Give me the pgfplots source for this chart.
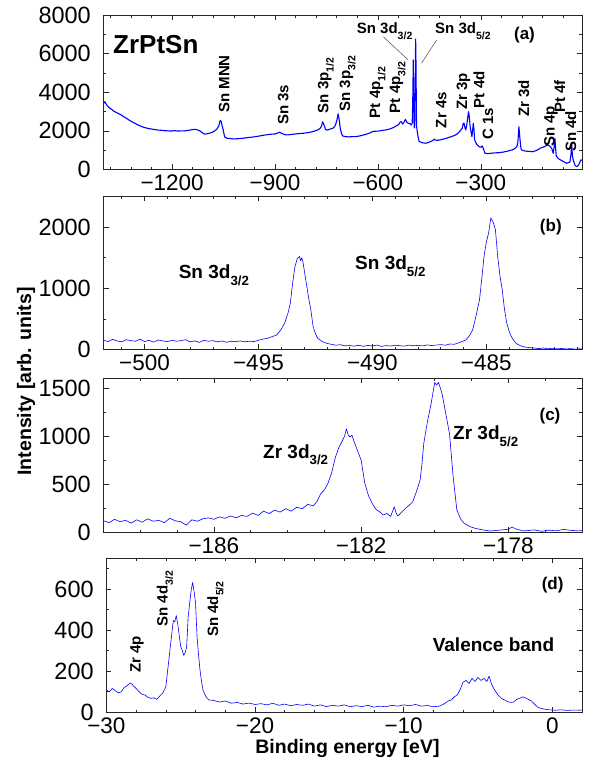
\documentclass[border=0pt]{standalone}
\usepackage{pgfplots}
\pgfplotsset{compat=1.18}
\usepackage{graphicx}
\usepackage{fontspec}
\setmainfont{Liberation Sans}
\newcommand{\sub}[1]{\raisebox{-0.35em}{\scalebox{0.7}{#1}}}
\newcommand{\lblA}{\bfseries\fontsize{15}{15}\selectfont}
\newcommand{\lblB}{\bfseries\fontsize{19}{19}\selectfont}
\newcommand{\xtickf}{\fontsize{22.5}{22.5}\selectfont}
\newcommand{\ytickf}{\fontsize{23.5}{23.5}\selectfont}
\pgfplotsset{
 panel/.style={
  scale only axis, anchor=north west,
  axis line style={black!85, line width=0.7pt},
  every tick/.style={black!85, line width=0.6pt},
  major tick length=5pt, minor tick length=2.6pt,
  tick align=inside,
  scaled ticks=false,
  /pgf/number format/assume math mode=true,
  xticklabel style={font=\xtickf, inner sep=0pt, yshift=-5.5pt},
  yticklabel style={font=\ytickf, inner sep=0pt, xshift=-12.5pt},
 },
 curve/.style={blue, line width=0.6pt, line join=round},
}
\begin{document}
\begin{tikzpicture}[x=1pt,y=1pt]
% ---------------- (a)
\begin{axis}[panel, at={(103.5pt,750pt)}, width=478.5pt, height=154.5pt,
 xmin=-1400, xmax=-5, ymin=0, ymax=8000,
 xtick={-1200,-900,-600,-300}, xticklabels={−1200,−900,−600,−300},
 minor xtick={-1380,-1320,...,-60},
 ytick={0,2000,4000,6000,8000}, yticklabels={0,2000,4000,6000,8000},
 minor ytick={1000,3000,5000,7000}]
\addplot[curve, line width=1.1pt] coordinates {
(-1400,3420) (-1396,3510) (-1392,3380) (-1387,3260) (-1382,3180) (-1377,3120) (-1372,3050)
(-1367,2990) (-1362,2950) (-1357,2900) (-1352,2860) (-1348,2820) (-1343,2750) (-1338,2700)
(-1333,2650) (-1329,2600) (-1322,2520) (-1315,2450) (-1307,2380) (-1300,2310) (-1292,2250)
(-1285,2200) (-1278,2160) (-1271,2130) (-1262,2100) (-1255,2080) (-1248,2060) (-1241,2040)
(-1232,2030) (-1222,2010) (-1212,2000) (-1203,1990) (-1193,2010) (-1183,1990) (-1173,2000)
(-1164,1995) (-1155,2020) (-1145,2050) (-1135,2080) (-1128,2060) (-1120,2010) (-1113,1920)
(-1106,1830) (-1097,1850) (-1087,1900) (-1077,1980) (-1070,2080) (-1064,2250) (-1060,2530)
(-1057,2500) (-1054,2250) (-1051,2050) (-1048,1780) (-1046,1670) (-1040,1620) (-1030,1600)
(-1018,1580) (-1005,1600) (-992,1620) (-980,1650) (-965,1680) (-950,1720) (-931,1780)
(-915,1820) (-900,1840) (-890,1900) (-886,1930) (-880,1860) (-870,1800) (-864,1790)
(-850,1820) (-835,1850) (-815,1880) (-800,1920) (-790,1960) (-778,2030) (-770,2100)
(-765,2220) (-761,2470) (-757,2300) (-753,2080) (-748,2040) (-740,2090) (-732,2130)
(-726,2220) (-722,2400) (-719,2600) (-716,2880) (-713,2600) (-710,2150) (-706,1850)
(-703,1740) (-695,1700) (-685,1690) (-675,1700) (-664,1700) (-650,1750) (-635,1820)
(-622,1900) (-615,1970) (-608,1980) (-598,1990) (-585,2030) (-576,2050) (-565,2100)
(-555,2170) (-547,2250) (-540,2320) (-535,2450) (-532,2480) (-528,2350) (-524,2450)
(-520,2600) (-516,2450) (-512,2400) (-507,2380) (-503,2300) (-500,2400) (-498,4000)
(-497,5670) (-496,4200) (-494.5,2200) (-493,2150) (-491,5000) (-490,6750) (-489,5500)
(-487.5,2300) (-486,2050) (-483,1700) (-480,1450) (-470,1380) (-460,1360) (-450,1420)
(-440,1500) (-436,1570) (-432,1520) (-425,1510) (-412,1560) (-400,1620) (-390,1680)
(-380,1740) (-373,1790) (-365,1900) (-358,2050) (-354,2150) (-351,2390) (-349,2400)
(-346,2150) (-344,2050) (-341,2300) (-338,2700) (-336,2990) (-334,2800) (-331,2220)
(-328,1900) (-326,1700) (-324,2000) (-322,2390) (-320,2100) (-318,1530) (-312,1300)
(-305,1180) (-299,1150) (-296,1220) (-292,1050) (-288,840) (-280,820) (-270,840)
(-260,860) (-247,870) (-235,900) (-222,950) (-212,1000) (-208,1010) (-200,1100)
(-195,1180) (-192,1400) (-189,2220) (-186,1600) (-183,1100) (-181,1010) (-170,950)
(-160,940) (-149,920) (-138,980) (-127,1100) (-115,1180) (-105,1270) (-98,1200)
(-93,1080) (-89,840) (-86,1200) (-84,1620) (-82,1100) (-80,700) (-74,560) (-67,490)
(-58,400) (-50,320) (-44,360) (-40,400) (-37,800) (-35,1360) (-33,700) (-30,450)
(-25,200) (-20,145) (-15,230) (-10,420) (-8,500) (-5,480)
};
\draw[black!70, line width=0.5pt] (axis cs:-584,6870) -- (axis cs:-512,5670);
\draw[black!70, line width=0.5pt] (axis cs:-429,6700) -- (axis cs:-473,5500);
\end{axis}
% ---------------- (b)
\begin{axis}[panel, at={(103.5pt,568.5pt)}, width=478.5pt, height=153pt,
 xmin=-501.8, xmax=-480.8, ymin=0, ymax=2500,
 xtick={-500,-495,-490,-485}, xticklabels={−500,−495,−490,−485},
 minor xtick={-501,-500,...,-481},
 ytick={0,1000,2000}, yticklabels={0,1000,2000},
 minor ytick={500,1500,2500}]
\addplot[curve] coordinates {
(-501.8,150) (-501.6,130) (-501.4,165) (-501.2,140) (-501.0,125) (-500.8,160) (-500.6,145)
(-500.4,135) (-500.2,170) (-500.0,130) (-499.8,150) (-499.6,120) (-499.4,155) (-499.2,140)
(-499.0,128) (-498.8,150) (-498.6,135) (-498.4,145) (-498.2,160) (-498.0,125) (-497.8,140)
(-497.6,115) (-497.4,150) (-497.2,135) (-497.0,145) (-496.8,125) (-496.6,140) (-496.4,118)
(-496.2,135) (-496.0,128) (-495.8,140) (-495.6,125) (-495.4,135) (-495.2,130) (-495.0,150)
(-494.8,170) (-494.6,183) (-494.4,210) (-494.2,237) (-494.0,330) (-493.85,429) (-493.7,600)
(-493.6,756) (-493.5,1084) (-493.4,1350) (-493.3,1480) (-493.2,1520) (-493.15,1450)
(-493.1,1500) (-493.05,1438) (-492.95,1200) (-492.9,1084) (-492.8,850) (-492.7,647)
(-492.6,373) (-492.5,260) (-492.4,183) (-492.2,130) (-492.0,100) (-491.8,85) (-491.6,70)
(-491.4,78) (-491.2,60) (-491.0,65) (-490.8,55) (-490.6,70) (-490.4,52) (-490.2,66)
(-490.0,58) (-489.8,72) (-489.6,50) (-489.4,64) (-489.2,56) (-489.0,70) (-488.8,62)
(-488.6,55) (-488.4,72) (-488.2,60) (-488.0,68) (-487.8,58) (-487.6,75) (-487.4,65)
(-487.2,72) (-487.0,80) (-486.8,70) (-486.6,90) (-486.4,85) (-486.2,110) (-485.9,155)
(-485.75,220) (-485.6,319) (-485.45,550) (-485.3,810) (-485.2,1150) (-485.1,1520)
(-485.0,1750) (-484.9,1903) (-484.8,2149) (-484.7,2080) (-484.6,1957) (-484.5,1520)
(-484.4,1200) (-484.3,975) (-484.2,650) (-484.1,429) (-484.0,300) (-483.9,210)
(-483.8,150) (-483.7,101) (-483.5,60) (-483.3,40) (-483.1,30) (-482.9,25) (-482.7,15)
(-482.5,25) (-482.3,12) (-482.1,20) (-481.9,10) (-481.7,18) (-481.5,8) (-481.3,15)
(-481.1,5) (-480.9,12) (-480.8,8)
};
\end{axis}
% ---------------- (c)
\begin{axis}[panel, at={(103.5pt,386.7pt)}, width=478.5pt, height=154pt,
 xmin=-189, xmax=-176, ymin=0, ymax=1600,
 xtick={-186,-182,-178}, xticklabels={−186,−182,−178},
 minor xtick={-189,-188,...,-176},
 ytick={0,500,1000,1500}, yticklabels={0,500,1000,1500},
 minor ytick={250,750,1250}]
\addplot[curve] coordinates {
(-189.0,120) (-188.85,100) (-188.7,135) (-188.55,110) (-188.4,125) (-188.25,95) (-188.1,130)
(-187.95,105) (-187.8,140) (-187.65,115) (-187.5,125) (-187.35,100) (-187.2,145) (-187.05,120)
(-186.9,110) (-186.75,75) (-186.6,130) (-186.45,115) (-186.3,140) (-186.15,150) (-186.0,135)
(-185.85,160) (-185.7,145) (-185.55,170) (-185.4,150) (-185.25,175) (-185.1,165) (-184.95,200)
(-184.8,175) (-184.65,220) (-184.5,195) (-184.35,230) (-184.2,210) (-184.05,245) (-183.9,220)
(-183.75,260) (-183.6,245) (-183.45,290) (-183.3,275) (-183.2,320) (-183.1,400) (-183.0,440)
(-182.9,510) (-182.8,620) (-182.7,780) (-182.6,885) (-182.5,960) (-182.45,1000) (-182.4,1075)
(-182.35,1010) (-182.3,990) (-182.25,1010) (-182.2,950) (-182.1,850) (-182.0,748) (-181.9,507)
(-181.8,380) (-181.7,300) (-181.6,240) (-181.5,213) (-181.4,180) (-181.3,196) (-181.2,165)
(-181.1,265) (-181.05,200) (-181.0,169) (-180.9,210) (-180.8,248) (-180.7,280) (-180.6,316)
(-180.5,420) (-180.4,541) (-180.35,700) (-180.3,920) (-180.2,1150) (-180.1,1334) (-180.05,1450)
(-180.0,1557) (-179.95,1530) (-179.9,1557) (-179.85,1500) (-179.8,1437) (-179.7,1230)
(-179.6,1024) (-179.5,575) (-179.4,231) (-179.3,140) (-179.2,93) (-179.05,60) (-178.9,41)
(-178.7,25) (-178.5,13) (-178.3,20) (-178.1,28) (-178.0,31) (-177.9,55) (-177.8,35)
(-177.6,15) (-177.5,17) (-177.3,25) (-177.1,10) (-176.9,22) (-176.7,15) (-176.5,30)
(-176.3,20) (-176.1,15) (-176.0,17)
};
\end{axis}
% ---------------- (d)
\begin{axis}[panel, at={(106.4pt,206.7pt)}, width=475.6pt, height=154pt,
 xmin=-30, xmax=2, ymin=0, ymax=750,
 xtick={-30,-20,-10,0}, xticklabels={−30,−20,−10,0},
 minor xtick={-28,-26,...,2},
 ytick={0,200,400,600}, yticklabels={0,200,400,600},
 minor ytick={100,300,500,700}]
\addplot[curve] coordinates {
(-30.0,108) (-29.8,100) (-29.6,116) (-29.4,105) (-29.2,95) (-29.0,100) (-28.8,120) (-28.6,130)
(-28.4,143) (-28.3,138) (-28.2,130) (-28.0,116) (-27.8,100) (-27.6,88) (-27.4,84) (-27.2,72)
(-27.0,68) (-26.8,70) (-26.6,63) (-26.4,80) (-26.2,95) (-26.0,124) (-25.9,190) (-25.8,253)
(-25.7,320) (-25.6,382) (-25.5,447) (-25.4,440) (-25.3,471) (-25.2,430) (-25.1,374)
(-25.0,320) (-24.9,302) (-24.8,277) (-24.7,290) (-24.6,318) (-24.5,463) (-24.4,530)
(-24.3,592) (-24.2,632) (-24.1,590) (-24.0,530) (-23.9,366) (-23.8,280) (-23.7,205)
(-23.6,150) (-23.5,108) (-23.3,75) (-23.1,60) (-22.8,58) (-22.4,50) (-22.0,55) (-21.6,44)
(-21.2,48) (-20.8,40) (-20.4,45) (-20.0,38) (-19.6,42) (-19.2,36) (-18.8,44) (-18.4,34)
(-18.0,40) (-17.6,32) (-17.2,38) (-16.8,34) (-16.4,40) (-16.0,30) (-15.6,36) (-15.2,28)
(-14.8,34) (-14.4,30) (-14.0,36) (-13.6,27) (-13.2,32) (-12.8,28) (-12.4,34) (-12.0,25)
(-11.6,30) (-11.2,27) (-10.8,34) (-10.4,30) (-10.0,36) (-9.6,32) (-9.2,38) (-8.8,30)
(-8.4,33) (-8.0,27) (-7.6,30) (-7.3,40) (-7.0,55) (-6.8,60) (-6.6,75) (-6.4,84) (-6.2,110)
(-6.0,147) (-5.8,155) (-5.6,140) (-5.4,165) (-5.2,150) (-5.0,170) (-4.8,155) (-4.6,165)
(-4.4,150) (-4.25,176) (-4.1,140) (-4.0,124) (-3.8,100) (-3.6,80) (-3.4,66) (-3.2,60)
(-3.0,52) (-2.8,48) (-2.6,50) (-2.4,62) (-2.2,68) (-2.0,75) (-1.8,70) (-1.6,62) (-1.4,55)
(-1.2,40) (-1.0,26) (-0.8,20) (-0.5,15) (-0.2,12) (0.2,10) (0.6,12) (1.0,9) (1.4,11)
(1.8,10) (2.0,11)
};
\end{axis}
% ---------------- labels
\begin{scope}[every node/.style={inner sep=0pt}]
\node[anchor=base west, font=\bfseries\fontsize{26}{26}\selectfont] at (113pt,711.7pt) {ZrPtSn};
\node[font=\bfseries\fontsize{17}{17}\selectfont] at (524.5pt,729.5pt) {(a)};
\node[font=\bfseries\fontsize{17}{17}\selectfont] at (550.8pt,537.5pt) {(b)};
\node[font=\bfseries\fontsize{17}{17}\selectfont] at (550pt,349pt) {(c)};
\node[font=\bfseries\fontsize{17}{17}\selectfont] at (552.6pt,179.5pt) {(d)};
% panel a
\node[anchor=base west, font=\lblA] at (356.7pt,731pt) {Sn 3d\sub{3/2}};
\node[anchor=base west, font=\lblA] at (435pt,731pt) {Sn 3d\sub{5/2}};
\node[rotate=90, anchor=base west, font=\lblA] at (229.4pt,652pt) {Sn MNN};
\node[rotate=90, anchor=base west, font=\lblA] at (288.4pt,640pt) {Sn 3s};
\node[rotate=90, anchor=base west, font=\lblA] at (328.4pt,651.7pt) {Sn 3p\sub{1/2}};
\node[rotate=90, anchor=base west, font=\lblA] at (350pt,653.3pt) {Sn 3p\sub{3/2}};
\node[rotate=90, anchor=base west, font=\lblA] at (380pt,646.7pt) {Pt 4p\sub{1/2}};
\node[rotate=90, anchor=base west, font=\lblA] at (400pt,651.7pt) {Pt 4p\sub{3/2}};
\node[rotate=90, anchor=base west, font=\lblA] at (446.4pt,636.7pt) {Zr 4s};
\node[rotate=90, anchor=base west, font=\lblA] at (467pt,655pt) {Zr 3p};
\node[rotate=90, anchor=base west, font=\lblA] at (484.4pt,656.7pt) {Pt 4d};
\node[rotate=90, anchor=base west, font=\lblA] at (493pt,625pt) {C 1s};
\node[rotate=90, anchor=base west, font=\lblA] at (529pt,648pt) {Zr 3d};
\node[rotate=90, anchor=base west, font=\lblA] at (554.5pt,618pt) {Sn 4p};
\node[rotate=90, anchor=base west, font=\lblA] at (565pt,652pt) {Pt 4f};
\node[rotate=90, anchor=base west, font=\lblA] at (576pt,613pt) {Sn 4d};
% panel b
\node[anchor=base west, font=\lblB] at (178.6pt,486.5pt) {Sn 3d\sub{3/2}};
\node[anchor=base west, font=\lblB] at (355pt,495pt) {Sn 3d\sub{5/2}};
% panel c
\node[anchor=base west, font=\lblB] at (263pt,306.7pt) {Zr 3d\sub{3/2}};
\node[anchor=base west, font=\lblB] at (453pt,325pt) {Zr 3d\sub{5/2}};
% panel d
\node[rotate=90, anchor=base west, font=\lblA] at (140.5pt,92pt) {Zr 4p};
\node[rotate=90, anchor=base west, font=\lblA] at (167.7pt,138.3pt) {Sn 4d\sub{3/2}};
\node[rotate=90, anchor=base west, font=\lblA] at (218pt,128pt) {Sn 4d\sub{5/2}};
\node[anchor=base, font=\lblB] at (493.5pt,113pt) {Valence band};
% axis titles
\node[rotate=90, anchor=base, font=\bfseries\fontsize{19.5}{19.5}\selectfont] at (31pt,383.5pt) {Intensity [arb. units]};
\node[anchor=base, font=\bfseries\fontsize{19.5}{19.5}\selectfont] at (347.5pt,11pt) {Binding energy [eV]};
\end{scope}
\pgfresetboundingbox
\path[use as bounding box] (0pt,0pt) rectangle (591pt,765pt);
\end{tikzpicture}
\end{document}
